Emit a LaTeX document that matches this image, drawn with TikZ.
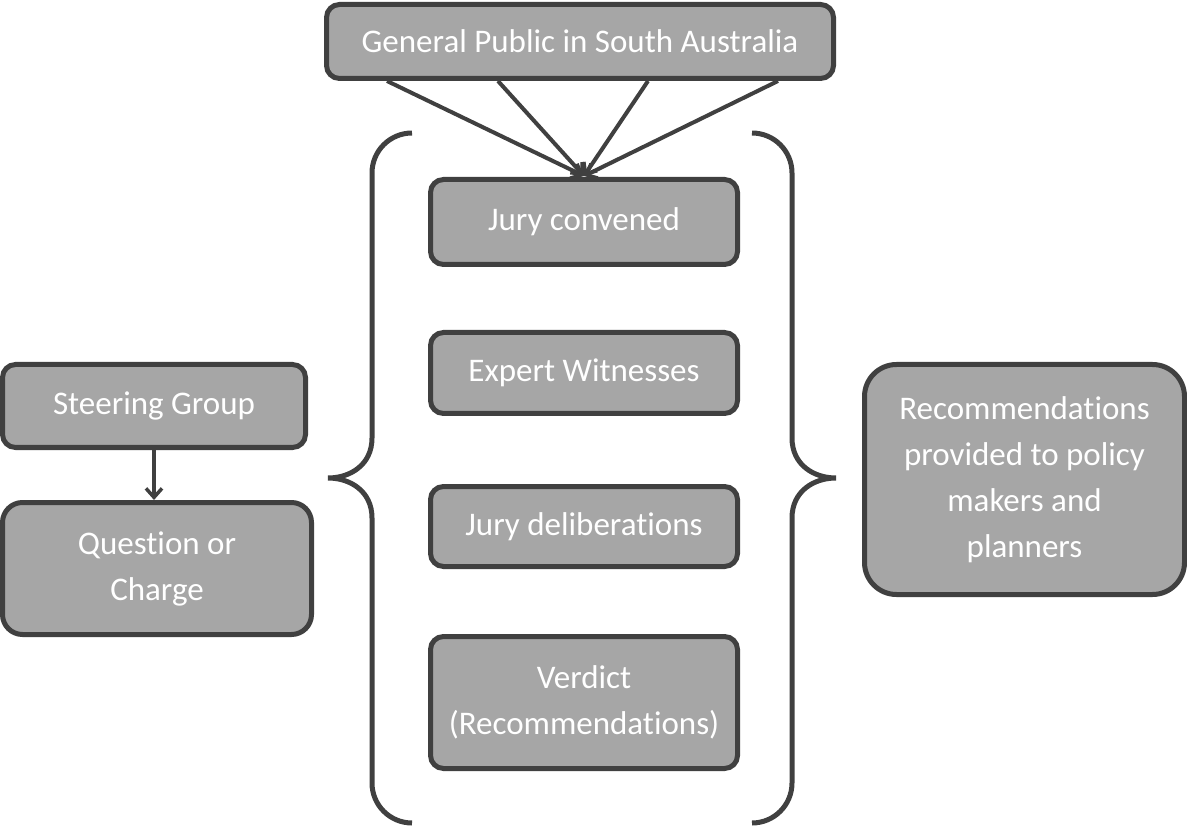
\documentclass[tikz,border=0pt]{standalone}
\usepackage{fontspec}
\setmainfont{Carlito}[Ligatures=NoCommon]
\usetikzlibrary{arrows.meta}
\definecolor{boxfill}{HTML}{A6A6A6}
\definecolor{edge}{HTML}{404040}
\tikzset{
  box/.style={draw=edge, fill=boxfill, line width=5pt, rounded corners=13pt,
    text=white, font=\fontsize{33}{46}\selectfont, align=center, inner sep=0pt},
  arr/.style={draw=edge, line width=4pt, -{Straight Barb[length=9pt,width=16pt,line width=3.5pt]}},
  brace/.style={draw=edge, line width=5pt}
}
\begin{document}
\begin{tikzpicture}[x=1pt,y=-1pt]
\useasboundingbox (0,0) rectangle (1187,826);
\node[box, minimum width=507pt, minimum height=74pt] (gp) at (580,41.5) {General Public in South Australia};
\node[box, minimum width=307pt, minimum height=85pt] (jc) at (584,222) {Jury convened};
\node[box, minimum width=307pt, minimum height=81pt] (ew) at (584,373) {Expert Witnesses};
\node[box, minimum width=307pt, minimum height=80pt] (jd) at (584,526.5) {Jury deliberations};
\node[box, minimum width=307pt, minimum height=132pt] (vd) at (584,702.5) {Verdict\\(Recommendations)};
\node[box, minimum width=303pt, minimum height=83pt] (sg) at (154,406) {Steering Group};
\node[box, minimum width=309pt, minimum height=132pt, rounded corners=20pt] (qc) at (157,568.5) {Question or\\Charge};
\node[box, minimum width=320pt, minimum height=230pt, rounded corners=32pt] (rec) at (1024.5,479.5) {Recommendations\\provided to policy\\makers and\\planners};
\coordinate (tip) at (584,176);
\draw[arr] (gp.south -| 387,0) -- (tip);
\draw[arr] (gp.south -| 498,0) -- (tip);
\draw[arr] (gp.south -| 648,0) -- (tip);
\draw[arr] (gp.south -| 778,0) -- (tip);
\draw[arr] (sg.south) -- (sg.south |- qc.north);
% left brace
\draw[brace] (412,133) arc[start angle=90, end angle=180, radius=40pt] -- (372,438)
  .. controls (372,465) and (350,478) .. (328,478)
  .. controls (350,478) and (372,491) .. (372,518) -- (372,783)
  arc[start angle=180, end angle=270, radius=40pt];
% right brace
\draw[brace] (752,133) arc[start angle=90, end angle=0, radius=40pt] -- (792,438)
  .. controls (792,465) and (814,478) .. (836,478)
  .. controls (814,478) and (792,491) .. (792,518) -- (792,783)
  arc[start angle=0, end angle=-90, radius=40pt];
\end{tikzpicture}
\end{document}
